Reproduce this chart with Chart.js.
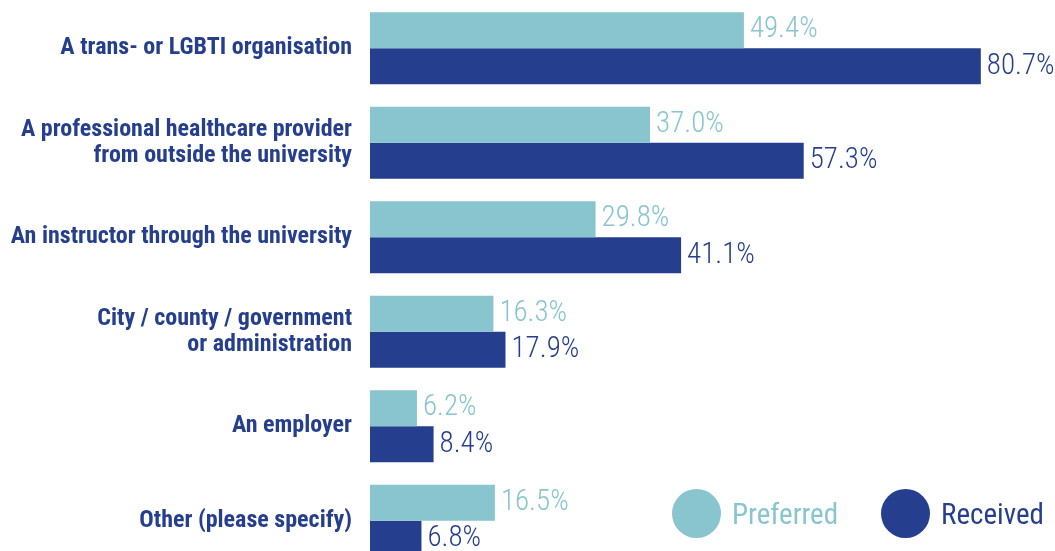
<!DOCTYPE html>
<html>
<head>
<meta charset="utf-8">
<script src="https://cdn.jsdelivr.net/npm/chart.js@4/dist/chart.umd.min.js"></script>
<style>
    html, body {
        margin: 0;
        padding: 0;
        width: 1055px;
        height: 551px;
        overflow: hidden;
        background: #fff;
    }
    .wrap {
        position: absolute;
        left: 0;
        top: 1px;
        width: 1055px;
        height: 567px;
    }
    .legend {
        position: absolute;
        top: 489px;
        left: 672px;
        display: flex;
        align-items: center;
        font-family: "Roboto Condensed", "Liberation Sans Narrow", "DejaVu Sans Condensed", Roboto, sans-serif;
        font-size: 29px;
    }
    .legend .item {
        display: flex;
        align-items: center;
        margin-right: 43px;
    }
    .legend .dot {
        width: 49px;
        height: 49px;
        border-radius: 50%;
        margin-right: 11px;
    }
</style>
</head>
<body>
<div class="wrap"><canvas id="chart"></canvas></div>
<div class="legend">
    <div class="item"><span class="dot" style="background:#88c5cf"></span><span style="color:#88c5cf">Preferred</span></div>
    <div class="item"><span class="dot" style="background:#253f8e"></span><span style="color:#253f8e">Received</span></div>
</div>
<script>
(() => {
    const categories = [
        ["A trans- or LGBTI organisation"],
        ["A professional healthcare provider", "from outside the university"],
        ["An instructor through the university"],
        ["City / county / government", "or administration"],
        ["An employer"],
        ["Other (please specify)"]
    ];
    const preferred = [49.4, 37.0, 29.8, 16.3, 6.2, 16.5];
    const received = [80.7, 57.3, 41.1, 17.9, 8.4, 6.8];

    const LIGHT = "#88c5cf";
    const DARK = "#253f8e";
    const FAMILY = "'Roboto Condensed', 'Liberation Sans Narrow', 'DejaVu Sans Condensed', Roboto, sans-serif";

    // percentage text just past the end of each bar
    const valueLabels = {
        id: "valueLabels",
        afterDatasetsDraw(chart) {
            const ctx = chart.ctx;
            ctx.save();
            ctx.font = `300 29px ${FAMILY}`;
            ctx.textAlign = "left";
            ctx.textBaseline = "middle";
            chart.data.datasets.forEach((ds, i) => {
                const meta = chart.getDatasetMeta(i);
                ctx.fillStyle = ds.backgroundColor;
                meta.data.forEach((bar, j) => {
                    ctx.fillText(`${ds.data[j].toFixed(1)}%`, bar.x + 6, bar.y);
                });
            });
            ctx.restore();
        }
    };

    new Chart(document.getElementById("chart"), {
        type: "bar",
        data: {
            labels: categories,
            datasets: [
                {
                    label: "Preferred",
                    data: preferred,
                    backgroundColor: LIGHT,
                    categoryPercentage: 0.763,
                    barPercentage: 1
                },
                {
                    label: "Received",
                    data: received,
                    backgroundColor: DARK,
                    categoryPercentage: 0.763,
                    barPercentage: 1
                }
            ]
        },
        options: {
            indexAxis: "y",
            responsive: true,
            maintainAspectRatio: false,
            animation: false,
            layout: { padding: 0 },
            plugins: {
                legend: { display: false },
                tooltip: { enabled: false }
            },
            scales: {
                x: {
                    display: false,
                    min: 0,
                    max: 90.5
                },
                y: {
                    grid: { display: false, drawTicks: false },
                    border: { display: false },
                    afterFit: (scale) => {
                        scale.width = 370;
                        scale.paddingTop = 0;
                        scale.paddingBottom = 0;
                    },
                    ticks: {
                        color: DARK,
                        padding: 18,
                        font: {
                            family: FAMILY,
                            size: 24,
                            weight: "bold",
                            lineHeight: 1.1
                        }
                    }
                }
            }
        },
        plugins: [valueLabels]
    });
})();
</script>
</body>
</html>
